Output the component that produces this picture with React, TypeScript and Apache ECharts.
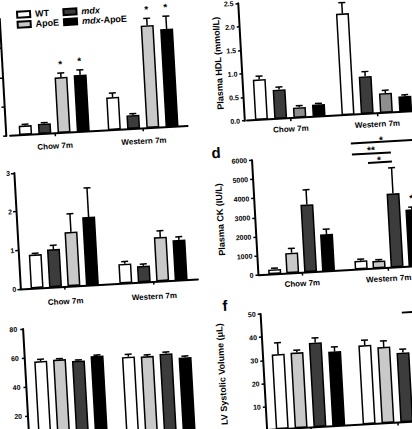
import React, { useEffect, useRef } from "react";
import * as echarts from "echarts";

const FONT = "'Liberation Sans', Arial, sans-serif";
const categories = ["Chow 7m", "Western 7m"];

// colours
const WHITE = "#ffffff";
const LIGHT = "#c9c9c9";
const MID = "#8e8e8e";
const DARK = "#3c3c3c";
const BLACK = "#000000";

// Panel a (WT, mdx, ApoE, mdx-ApoE)
const aWT = [1.6, 5.6];
const aWTErr = [0.2, 0.7];
const aMdx = [1.75, 2.35];
const aMdxErr = [0.15, 0.25];
const aApoE = [9.5, 17.5];
const aApoEErr = [0.7, 1.2];
const aMdxApoE = [9.7, 16.7];
const aMdxApoEErr = [0.85, 2.2];
const aStarsApoE = [1, 1];
const aStarsMdxApoE = [1, 1];

// Panel b: Plasma HDL (mmol/L)
const bWT = [0.86, 2.16];
const bWTErr = [0.07, 0.23];
const bMdx = [0.62, 0.8];
const bMdxErr = [0.055, 0.1];
const bApoE = [0.22, 0.42];
const bApoEErr = [0.035, 0.06];
const bMdxApoE = [0.26, 0.33];
const bMdxApoEErr = [0.02, 0.03];

// Panel c
const cWT = [0.87, 0.5];
const cWTErr = [0.03, 0.06];
const cMdx = [0.98, 0.42];
const cMdxErr = [0.1, 0.05];
const cApoE = [1.4, 1.14];
const cApoEErr = [0.47, 0.16];
const cMdxApoE = [1.76, 1.04];
const cMdxApoEErr = [0.75, 0.08];

// Panel d: Plasma CK (IU/L) (WT, ApoE, mdx, mdx-ApoE)
const dWT = [250, 450];
const dWTErr = [60, 80];
const dApoE = [1060, 390];
const dApoEErr = [230, 60];
const dMdx = [3530, 3855];
const dMdxErr = [770, 1340];
const dMdxApoE = [1930, 2970];
const dMdxApoEErr = [260, 120];
const dStarsMdxApoE = [0, 1];

// Panel e
const eWT = [57.2, 56.8];
const eWTErr = [1.3, 1.8];
const eApoE = [57.6, 56.5];
const eApoEErr = [0.6, 1.0];
const eMdx = [56.0, 57.6];
const eMdxErr = [0.6, 1.1];
const eMdxApoE = [58.6, 54.2];
const eMdxApoEErr = [0.6, 1.0];

// Panel f: LV Systolic Volume (uL)
const fWT = [32.3, 34.1];
const fWTErr = [4.9, 2.15];
const fApoE = [32.6, 32.9];
const fApoEErr = [1.0, 2.6];
const fMdx = [36.4, 30.0];
const fMdxErr = [2.0, 1.45];
const fMdxApoE = [32.1, 32.0];
const fMdxApoEErr = [2.0, 1.5];

type S = { name: string; color: string; values: number[]; errs: number[]; stars?: number[] };
type P = {
  left: number; top: number; width: number; height: number;
  max: number; interval: number; offset: number;
  labelShow: boolean; labelMargin: number; fmt?: (v: number) => string;
  showMin: boolean; xLabels: boolean; xMargin: number;
  name?: string; nameGap?: number; gap: number; series: S[];
};

const BW = 13;

const panels: P[] = [
  {
    left: 34.8, top: 27.7, width: 177.8, height: 117.2, max: 20, interval: 5, offset: 4,
    labelShow: false, labelMargin: 4, gap: 0.48, showMin: true, xLabels: true, xMargin: 9,
    series: [
      { name: "WT", color: WHITE, values: aWT, errs: aWTErr },
      { name: "mdx", color: DARK, values: aMdx, errs: aMdxErr },
      { name: "ApoE", color: LIGHT, values: aApoE, errs: aApoEErr, stars: aStarsApoE },
      { name: "mdx-ApoE", color: BLACK, values: aMdxApoE, errs: aMdxApoEErr, stars: aStarsMdxApoE },
    ],
  },
  {
    left: 272.2, top: 25.4, width: 173.4, height: 117.6, max: 2.5, interval: 0.5, offset: 2,
    labelShow: true, labelMargin: 5, fmt: (v) => v.toFixed(1), gap: 0.48, showMin: true, xLabels: true, xMargin: 7,
    name: "Plasma HDL (mmol/L)", nameGap: 19,
    series: [
      { name: "WT", color: WHITE, values: bWT, errs: bWTErr },
      { name: "mdx", color: DARK, values: bMdx, errs: bMdxErr },
      { name: "ApoE", color: MID, values: bApoE, errs: bApoEErr },
      { name: "mdx-ApoE", color: BLACK, values: bMdxApoE, errs: bMdxApoEErr },
    ],
  },
  {
    left: 36.5, top: 182.3, width: 177.8, height: 116.3, max: 3, interval: 1, offset: 0,
    labelShow: true, labelMargin: 4, gap: 0.42, showMin: true, xLabels: true, xMargin: 11,
    series: [
      { name: "WT", color: WHITE, values: cWT, errs: cWTErr },
      { name: "mdx", color: DARK, values: cMdx, errs: cMdxErr },
      { name: "ApoE", color: LIGHT, values: cApoE, errs: cApoEErr },
      { name: "mdx-ApoE", color: BLACK, values: cMdxApoE, errs: cMdxApoEErr },
    ],
  },
  {
    left: 275, top: 182.8, width: 173.2, height: 115, max: 6000, interval: 1000, offset: 0,
    labelShow: true, labelMargin: 5, fmt: (v) => String(v), gap: 0.38, showMin: true, xLabels: true, xMargin: 7,
    name: "Plasma CK (IU/L)", nameGap: 30.5,
    series: [
      { name: "WT", color: WHITE, values: dWT, errs: dWTErr },
      { name: "ApoE", color: LIGHT, values: dApoE, errs: dApoEErr },
      { name: "mdx", color: DARK, values: dMdx, errs: dMdxErr },
      { name: "mdx-ApoE", color: BLACK, values: dMdxApoE, errs: dMdxApoEErr, stars: dStarsMdxApoE },
    ],
  },
  {
    left: 37.1, top: 338.6, width: 175.6, height: 116, max: 80, interval: 20, offset: 0,
    labelShow: true, labelMargin: 6, gap: 0.45, showMin: false, xLabels: false, xMargin: 7,
    series: [
      { name: "WT", color: WHITE, values: eWT, errs: eWTErr },
      { name: "ApoE", color: LIGHT, values: eApoE, errs: eApoEErr },
      { name: "mdx", color: DARK, values: eMdx, errs: eMdxErr },
      { name: "mdx-ApoE", color: BLACK, values: eMdxApoE, errs: eMdxApoEErr },
    ],
  },
  {
    left: 275, top: 336.9, width: 174, height: 116, max: 50, interval: 10, offset: 0,
    labelShow: true, labelMargin: 5, gap: 0.45, showMin: false, xLabels: false, xMargin: 7,
    name: "LV Systolic Volume (μL)", nameGap: 37.5,
    series: [
      { name: "WT", color: WHITE, values: fWT, errs: fWTErr },
      { name: "ApoE", color: LIGHT, values: fApoE, errs: fApoEErr },
      { name: "mdx", color: DARK, values: fMdx, errs: fMdxErr },
      { name: "mdx-ApoE", color: BLACK, values: fMdxApoE, errs: fMdxApoEErr },
    ],
  },
];

function buildOption() {
  const grid: any[] = [];
  const xAxis: any[] = [];
  const yAxis: any[] = [];
  const series: any[] = [];
  panels.forEach((p, i) => {
    grid.push({ left: p.left, top: p.top, width: p.width, height: p.height });
    xAxis.push({
      type: "category", gridIndex: i, data: categories,
      axisLine: { lineStyle: { color: "#000", width: 2 } },
      axisTick: { show: true, alignWithLabel: true, length: 3, lineStyle: { color: "#000", width: 1.5 } },
      axisLabel: { show: p.xLabels, fontSize: 8, fontWeight: "bold", color: "#000", margin: p.xMargin, fontFamily: FONT },
    });
    yAxis.push({
      type: "value", gridIndex: i, min: 0, max: p.max, interval: p.interval, offset: p.offset,
      splitLine: { show: false },
      axisLine: { show: true, lineStyle: { color: "#000", width: 2 } },
      axisTick: { show: true, length: 3, lineStyle: { color: "#000", width: 1.5 } },
      axisLabel: {
        show: p.labelShow, showMinLabel: p.showMin, fontSize: 7, fontWeight: "bold", color: "#000",
        margin: p.labelMargin, fontFamily: FONT,
        formatter: p.fmt ? (v: number) => p.fmt!(v) : undefined,
      },
      name: p.name, nameLocation: "middle", nameGap: p.nameGap,
      nameTextStyle: { fontSize: 9, fontWeight: "bold", color: "#000", fontFamily: FONT },
    });
    const errData: any[] = [];
    p.series.forEach((s, k) => {
      series.push({
        type: "bar", name: s.name, xAxisIndex: i, yAxisIndex: i, data: s.values,
        barWidth: BW, barGap: `${Math.round(p.gap * 100)}%`,
        itemStyle: { color: s.color, borderColor: "#000", borderWidth: 1.5 },
        silent: true,
      });
      s.values.forEach((v, c) => {
        errData.push([c, v, s.errs[c], k, s.stars ? s.stars[c] : 0]);
      });
    });
    const pitch = BW * (1 + p.gap);
    series.push({
      type: "custom", xAxisIndex: i, yAxisIndex: i, data: errData, z: 3, silent: true,
      encode: { x: 0, y: 1 },
      renderItem: (params: any, api: any) => {
        const c = api.value(0), v = api.value(1), e = api.value(2), k = api.value(3), st = api.value(4);
        const base = api.coord([c, v]);
        const top = api.coord([c, v + e]);
        const x = base[0] + (k - 1.5) * pitch;
        const children: any[] = [
          { type: "line", shape: { x1: x, y1: base[1], x2: x, y2: top[1] }, style: { stroke: "#000", lineWidth: 1.5 } },
          { type: "line", shape: { x1: x - 3.5, y1: top[1], x2: x + 3.5, y2: top[1] }, style: { stroke: "#000", lineWidth: 1.5 } },
        ];
        if (st) {
          children.push({
            type: "text", x, y: top[1] - 9,
            style: { text: "*", fontSize: 10, fontWeight: "bold", fill: "#000", align: "center", verticalAlign: "middle", fontFamily: FONT },
          });
        }
        return { type: "group", children };
      },
    });
  });

  const rich = {
    i: { fontStyle: "italic", fontWeight: "bold", fontSize: 9, fontFamily: FONT, color: "#000" },
    n: { fontWeight: "bold", fontSize: 9, fontFamily: FONT, color: "#000" },
  };
  const legendBase = {
    orient: "vertical", itemWidth: 13, itemHeight: 6, itemGap: 0, icon: "rect", padding: 0,
    selectedMode: false,
    textStyle: { fontSize: 9, fontWeight: "bold", color: "#000", lineHeight: 10, fontFamily: FONT, rich },
    formatter: (name: string) =>
      name === "mdx" ? "{i|mdx}" : name === "mdx-ApoE" ? "{i|mdx}{n|-ApoE}" : `{n|${name}}`,
  };

  const line = (x1: number, y1: number, x2: number, y2: number) => ({
    type: "line", shape: { x1, y1, x2, y2 }, style: { stroke: "#000", lineWidth: 2 }, silent: true,
  });
  const txt = (x: number, y: number, text: string, size: number) => ({
    type: "text", x, y, silent: true,
    style: { text, fontSize: size, fontWeight: "bold", fill: "#000", align: "center", verticalAlign: "middle", fontFamily: FONT },
  });

  return {
    animation: false,
    backgroundColor: "#fff",
    grid, xAxis, yAxis, series,
    legend: [
      { ...legendBase, data: ["WT", "ApoE"], left: 47.6, top: 19.5 },
      { ...legendBase, data: ["mdx", "mdx-ApoE"], left: 94, top: 19.5 },
    ],
    graphic: [
      txt(239.5, 173.2, "d", 15),
      txt(239.9, 326.2, "f", 15),
      line(374.6, 171.7, 450, 171.7),
      txt(405, 169.9, "*", 10),
      line(375, 182.8, 414.1, 182.8),
      txt(394.4, 179.3, "**", 10),
      line(390.6, 192, 414.6, 192),
      txt(401.9, 189.6, "*", 10),
      line(416, 343.4, 460, 343.4),
    ],
  };
}

export default function App() {
  const ref = useRef<HTMLDivElement>(null);
  useEffect(() => {
    if (!ref.current) return;
    const chart = echarts.init(ref.current, undefined, { renderer: "svg" });
    chart.setOption(buildOption() as any);
    return () => chart.dispose();
  }, []);
  return (
    <div style={{ position: "fixed", left: 0, top: 0, width: 412, height: 429, overflow: "hidden", background: "#fff" }}>
      <div
        ref={ref}
        style={{
          position: "absolute", left: -20, top: -20, width: 452, height: 469,
          transform: "rotate(-3.2deg)", transformOrigin: "226px 234.5px",
        }}
      />
    </div>
  );
}
